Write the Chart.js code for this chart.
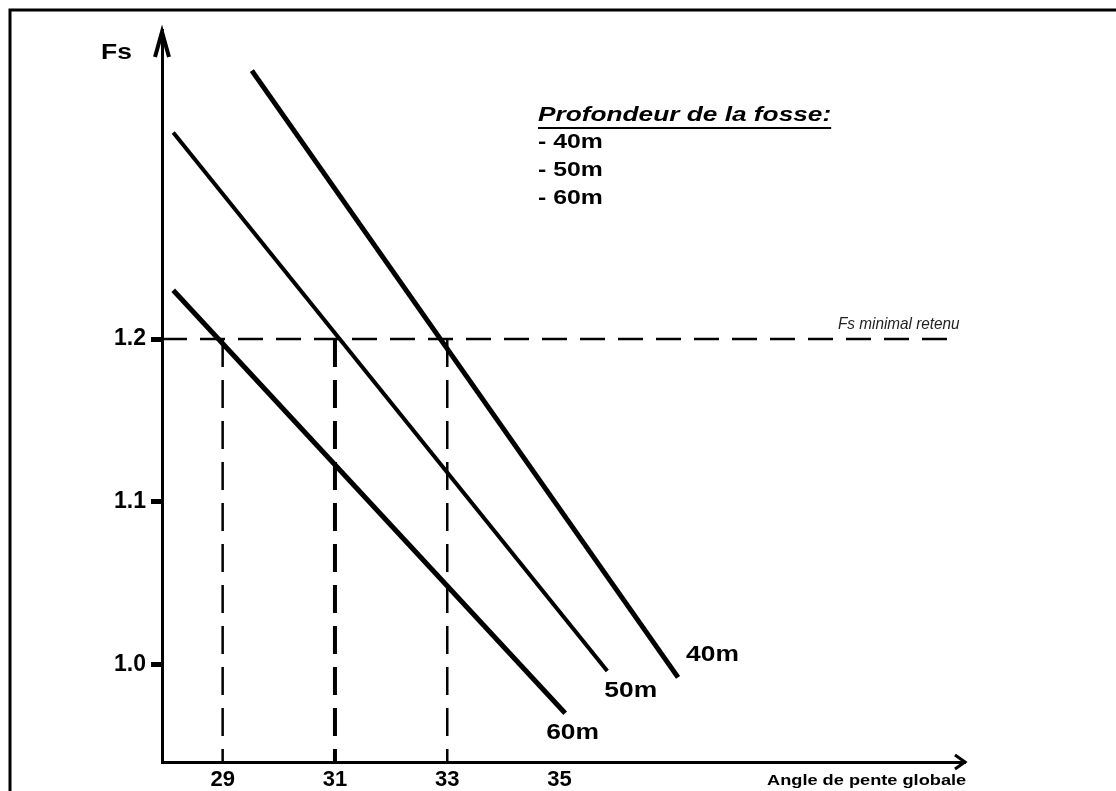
<!DOCTYPE html>
<html>
<head>
<meta charset="utf-8">
<script src="https://cdn.jsdelivr.net/npm/chart.js@4/dist/chart.umd.min.js"></script>
<style>
  html, body { margin: 0; padding: 0; background: #fff; }
  #chart { display: block; }
</style>
</head>
<body>
<canvas id="chart" width="1116" height="791"></canvas>
<script>
// Values (x = angle de pente globale, y = Fs)
const depths = ['40m', '50m', '60m'];
const angle40 = [29.52, 37.11];
const fs40 = [1.365, 0.992];
const angle50 = [28.12, 35.85];
const fs50 = [1.327, 0.996];
const angle60 = [28.12, 35.1];
const fs60 = [1.23, 0.97];

const fsMinimal = 1.2;
const retainedAngles = [29, 31, 33];
const xTicks = [29, 31, 33, 35];
const yTicks = [1.0, 1.1, 1.2];

const xMin = 27.92, xMax = 42.22;
const yMin = 0.94, yMax = 1.39;

const FONT = '"Liberation Sans", Arial, sans-serif';
const STRETCH = 1.2; // the sketch text is a bit wide

const toPoints = (xs, ys) => xs.map((x, i) => ({ x: x, y: ys[i] }));

// Fs lines
const lineSets = [
    { label: depths[0], data: toPoints(angle40, fs40), width: 5 },
    { label: depths[1], data: toPoints(angle50, fs50), width: 4 },
    { label: depths[2], data: toPoints(angle60, fs60), width: 5 },
].map((d) => ({
    label: d.label,
    data: d.data,
    showLine: true,
    borderColor: '#000',
    borderWidth: d.width,
    pointRadius: 0,
    borderCapStyle: 'butt',
}));

// Fs minimal retenu + vertical projections
const dashSets = [
    {
        label: 'Fs minimal retenu',
        data: [{ x: xMin, y: fsMinimal }, { x: 42.0, y: fsMinimal }],
        showLine: true,
        borderColor: '#000',
        borderWidth: 2.5,
        borderDash: [25, 13],
        pointRadius: 0,
    },
].concat(retainedAngles.map((a, i) => ({
    label: 'angle ' + a,
    data: [{ x: a, y: fsMinimal }, { x: a, y: yMin }],
    showLine: true,
    borderColor: '#000',
    borderWidth: i === 1 ? 4 : 2.5,
    borderDash: [28, 13],
    pointRadius: 0,
})));

// write text stretched horizontally, like in the sketch
function wideText(ctx, text, x, y, font, sx) {
    ctx.save();
    ctx.font = font;
    ctx.translate(x, y);
    ctx.scale(sx, 1);
    ctx.fillText(text, 0, 0);
    const w = ctx.measureText(text).width * sx;
    ctx.restore();
    return w;
}

/* Frame, arrows and free text of the sketch */
const sketchPlugin = {
    id: 'sketch',
    afterDraw(chart) {
        const ctx = chart.ctx;
        const xs = chart.scales.x;
        const ys = chart.scales.y;
        const area = chart.chartArea;
        ctx.save();

        // frame
        ctx.strokeStyle = '#000';
        ctx.lineWidth = 3;
        ctx.beginPath();
        ctx.moveTo(10, 791);
        ctx.lineTo(10, 10);
        ctx.lineTo(1116, 10);
        ctx.stroke();

        // arrow heads
        ctx.lineWidth = 4;
        ctx.beginPath();
        ctx.moveTo(area.left - 7, area.top + 27);
        ctx.lineTo(area.left, area.top + 2);
        ctx.lineTo(area.left + 7, area.top + 27);
        ctx.stroke();
        ctx.lineWidth = 3;
        ctx.beginPath();
        ctx.moveTo(area.right - 10, area.bottom - 7);
        ctx.lineTo(area.right, area.bottom);
        ctx.lineTo(area.right - 10, area.bottom + 7);
        ctx.stroke();

        ctx.fillStyle = '#000';
        ctx.textBaseline = 'middle';
        ctx.textAlign = 'left';

        // axis titles
        wideText(ctx, 'Fs', 101, 53, 'bold 22px ' + FONT, STRETCH);
        wideText(ctx, 'Angle de pente globale', 767, 781, 'bold 14px ' + FONT, 1.3);

        // line end labels
        const ends = [
            [angle40, fs40, 8, -22],
            [angle50, fs50, -3, 20],
            [angle60, fs60, -19, 20],
        ];
        ends.forEach(([ax, fy, dx, dy], i) => {
            const px = xs.getPixelForValue(ax[1]);
            const py = ys.getPixelForValue(fy[1]);
            wideText(ctx, depths[i], px + dx, py + dy, 'bold 22px ' + FONT, STRETCH);
        });

        // Fs minimal retenu
        ctx.fillStyle = '#222';
        wideText(ctx, 'Fs minimal retenu', 838, ys.getPixelForValue(fsMinimal) - 15,
            'italic 17px ' + FONT, 0.9);

        // legend block
        ctx.fillStyle = '#000';
        const w = wideText(ctx, 'Profondeur de la fosse:', 538, 115,
            'italic bold 21px ' + FONT, 1.25);
        ctx.lineWidth = 2;
        ctx.beginPath();
        ctx.moveTo(538, 128);
        ctx.lineTo(538 + w, 128);
        ctx.stroke();
        depths.forEach((d, i) => {
            wideText(ctx, '- ' + d, 538, 142 + i * 28, 'bold 21px ' + FONT, 1.18);
        });

        ctx.restore();
    },
};

new Chart(document.getElementById('chart'), {
    type: 'scatter',
    data: { datasets: lineSets.concat(dashSets) },
    options: {
        responsive: false,
        animation: false,
        layout: {
            padding: { left: 102, top: 30, right: 151, bottom: 0 },
        },
        plugins: {
            legend: { display: false },
            tooltip: { enabled: false },
        },
        scales: {
            x: {
                type: 'linear',
                min: xMin,
                max: xMax,
                afterBuildTicks: (s) => {
                    s.ticks = xTicks.map((v) => ({ value: v }));
                },
                afterFit: (s) => {
                    s.height = 29;
                },
                border: { display: true, color: '#000', width: 3 },
                grid: { display: false, drawTicks: false },
                ticks: {
                    color: '#000',
                    padding: 5,
                    maxRotation: 0,
                    font: { family: FONT, size: 22, weight: 'bold' },
                },
            },
            y: {
                type: 'linear',
                min: yMin,
                max: yMax,
                afterBuildTicks: (s) => {
                    s.ticks = yTicks.map((v) => ({ value: v }));
                },
                afterFit: (s) => {
                    s.width = 60;
                },
                border: { display: true, color: '#000', width: 3 },
                grid: {
                    display: true,
                    drawOnChartArea: false,
                    drawTicks: true,
                    tickLength: 11,
                    tickWidth: 5,
                    tickColor: '#000',
                },
                ticks: {
                    color: '#000',
                    padding: 5,
                    font: { family: FONT, size: 23, weight: 'bold' },
                    callback: (v) => Number(v).toFixed(1),
                },
            },
        },
    },
    plugins: [sketchPlugin],
});
</script>
</body>
</html>
